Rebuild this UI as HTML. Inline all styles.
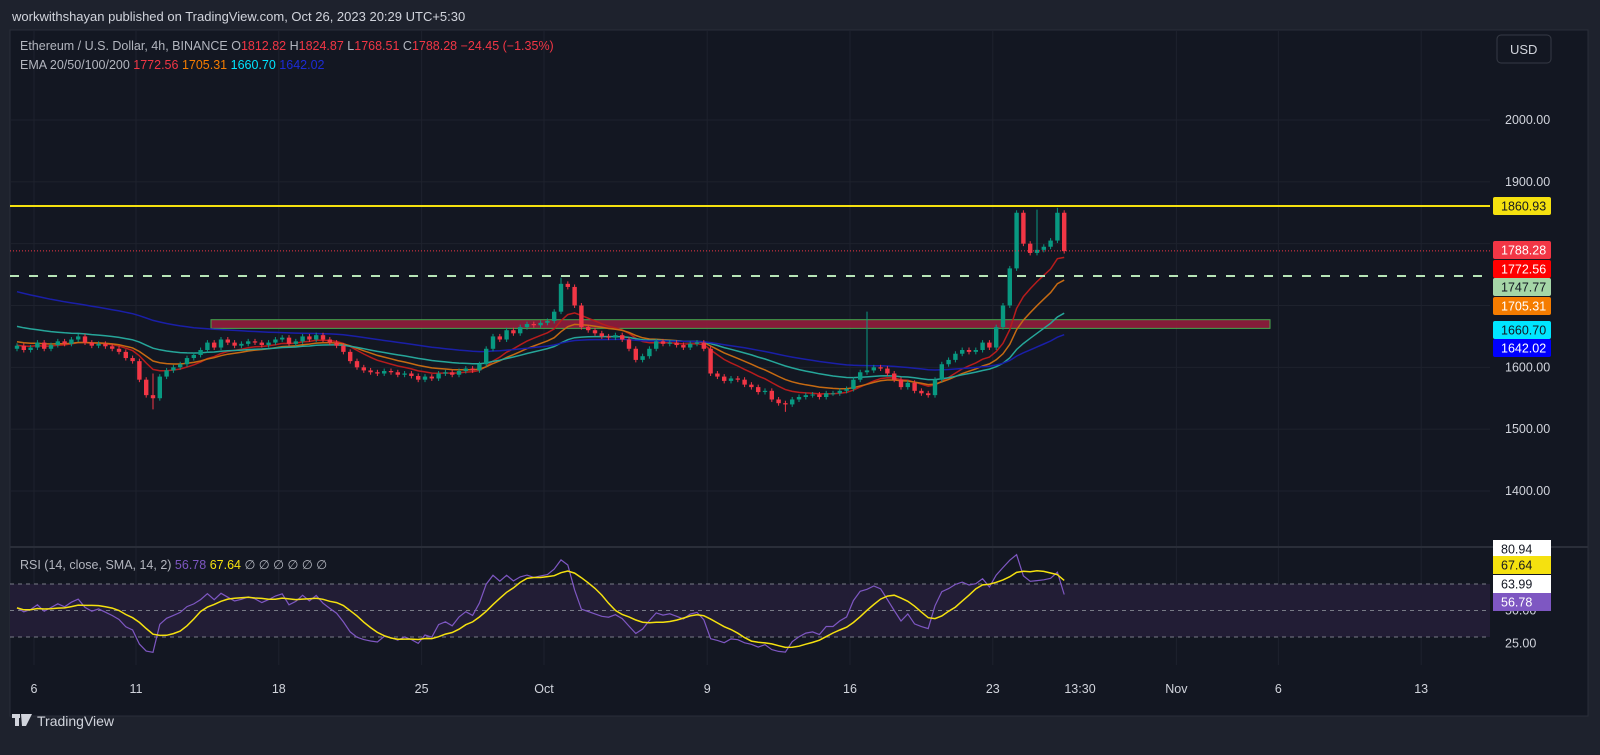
<!DOCTYPE html>
<html><head><meta charset="utf-8"><style>
html,body{margin:0;padding:0;background:#1e222d;width:1600px;height:755px;overflow:hidden;font-family:"Liberation Sans",sans-serif}
svg text{font-family:"Liberation Sans",sans-serif}
</style></head><body>
<svg id="c" width="1600" height="755" xmlns="http://www.w3.org/2000/svg">
<rect x="0" y="0" width="1600" height="755" fill="#1e222d"/>
<text x="12" y="21" fill="#d1d4dc" font-size="13">workwithshayan published on TradingView.com, Oct 26, 2023 20:29 UTC+5:30</text>
<rect x="10" y="30" width="1578" height="686" fill="#131722" stroke="#2a2e39"/>
<g id="grid"></g>
<g id="pane"></g>
<line x1="10" y1="547" x2="1588" y2="547" stroke="#2a2e39" stroke-width="2"/>
<g id="rsi"></g>
<g id="axis"></g>
<g id="taxis"></g>
<text x="20" y="50" font-size="12.5" fill="#b2b5be">Ethereum / U.S. Dollar, 4h, BINANCE <tspan fill="#b2b5be"> O</tspan><tspan fill="#f23645">1812.82</tspan><tspan fill="#b2b5be">  H</tspan><tspan fill="#f23645">1824.87</tspan><tspan fill="#b2b5be">  L</tspan><tspan fill="#f23645">1768.51</tspan><tspan fill="#b2b5be">  C</tspan><tspan fill="#f23645">1788.28  −24.45 (−1.35%)</tspan></text>
<text x="20" y="69" font-size="12.5" fill="#b2b5be">EMA 20/50/100/200  <tspan fill="#f23645">1772.56</tspan>  <tspan fill="#f57c00">1705.31</tspan>  <tspan fill="#00e5ff">1660.70</tspan>  <tspan fill="#1c2bd6">1642.02</tspan></text>
<text x="20" y="569" font-size="12.5" fill="#b2b5be">RSI (14, close, SMA, 14, 2)  <tspan fill="#7e57c2">56.78</tspan>  <tspan fill="#f5e10f">67.64</tspan>  ∅  ∅  ∅  ∅  ∅  ∅</text>
<rect x="1497" y="35" width="54" height="28" rx="4" fill="#131722" stroke="#363a45"/>
<text x="1510" y="54" font-size="13" fill="#d1d4dc">USD</text>
<g><rect x="12" y="714" width="8" height="4" fill="#d1d4dc"/><rect x="15" y="714" width="4" height="12" fill="#d1d4dc"/><polygon points="21,714 32,714 26,726 22,726" fill="#d1d4dc"/>
<text x="37" y="726" font-size="14" fill="#d1d4dc">TradingView</text></g>
</svg>
<script>
// ---------- data ----------
const days = ["Sep5","Sep6","Sep7","Sep8","Sep9","Sep10","Sep11","Sep12","Sep13","Sep14","Sep15","Sep16","Sep17","Sep18","Sep19","Sep20","Sep21","Sep22","Sep23","Sep24","Sep25","Sep26","Sep27","Sep28","Sep29","Sep30","Oct1","Oct2","Oct3","Oct4","Oct5","Oct6","Oct7","Oct8","Oct9","Oct10","Oct11","Oct12","Oct13","Oct14","Oct15","Oct16","Oct17","Oct18","Oct19","Oct20","Oct21","Oct22","Oct23","Oct24","Oct25","Oct26"];
const closes = [
1635,1628,1632, 1640,1630,1636, 1642,1638,1645, 1650,1640,1635, 1638,1634,1630, 1625,1615,1610,
1580,1555,1550, 1585,1595,1600, 1605,1615,1620, 1628,1640,1632, 1645,1640,1635, 1638,1642,1640,
1636,1640,1645, 1648,1638,1642, 1650,1645,1652, 1645,1640,1635, 1625,1610,1600, 1595,1592,1590,
1594,1592,1588, 1590,1586,1580, 1585,1582,1590, 1592,1588,1594, 1598,1595,1605, 1630,1650,1645,
1660,1655,1665, 1670,1668,1672, 1675,1690,1735, 1730,1700,1665, 1660,1655,1650, 1648,1652,1645,
1630,1612,1618, 1630,1642,1638, 1640,1636,1632, 1638,1640,1630, 1590,1585,1578, 1582,1580,1572,
1568,1560,1562, 1548,1542,1540, 1548,1552,1555, 1556,1552,1558, 1558,1562,1565, 1580,1592,1595,
1600,1598,1590, 1580,1568,1575, 1562,1558,1555, 1580,1605,1612, 1622,1628,1625, 1628,1640,1632,
1665,1700,1760, 1850,1800,1785, 1790,1795,1805, 1850,1788];
const firstOpen = 1630;
const spikeIdx = [20, 80, 125, 150, 153];
const spikeHigh = [1590, 1745, 1690, 1855, 1858];
const spikeLowIdx = [20, 113];
const spikeLow = [1532, 1528];
const priceTicks = [2000, 1900, 1600, 1500, 1400];
const rsiTicks = [50, 25];
const timeLabels = ["6","11","18","25","Oct","9","16","23","Nov","6","13"];
const timeDays = [0,5,12,19,25,33,40,47,56,61,68];
const emaPeriods = [10,17,34,67];
const emaSeeds = [1636,1642,1668,1725];
const emaColors = ["#b71c1c","#c66a12","#26a69a","#1a1fa8"];
const resistance = 1860.93, lastClose = 1788.28, dashLevel = 1747.77;
const zoneTop = 1677, zoneBot = 1663;
// ---------- scales ----------
const PL=10, PR=1490;
const xDay = d => 34 + (d)*20.4;
const xi = i => xDay(-1 + (i+0.5)/3);
const yP = p => 120 + (2000-p)*0.6183;
const yR = v => 584 + (70-v)*1.325;
const NS="http://www.w3.org/2000/svg";
function mk(tag, attrs, parent){const e=document.createElementNS(NS,tag);for(const k in attrs)e.setAttribute(k,attrs[k]);parent.appendChild(e);return e;}
const grid=document.getElementById('grid'), pane=document.getElementById('pane'), rsiG=document.getElementById('rsi'), axis=document.getElementById('axis'), taxis=document.getElementById('taxis');
[2000,1900,1800,1700,1600,1500,1400].forEach(p=>{const l=mk('line',{x1:PL,x2:PR,y1:yP(p),y2:yP(p),stroke:'#1e222d'},grid);

});
timeDays.forEach(d=>{const l=mk('line',{x1:xDay(d),x2:xDay(d),y1:31,y2:665,stroke:'#1e222d'},grid);

});
const z=mk('rect',{x:211,y:yP(zoneTop),width:1059,height:yP(zoneBot)-yP(zoneTop),fill:'#8c1d3b',stroke:'#4caf50','stroke-width':1,opacity:0.95},pane);


emaPeriods.forEach((per,k)=>{let e=emaSeeds[k];const a=2/(per+1);let pts=[];closes.forEach((c,i)=>{e=e+a*(c-e);pts.push(xi(i).toFixed(1)+','+yP(e).toFixed(1));});
const pl=mk('polyline',{points:pts.join(' '),fill:'none',stroke:emaColors[k],'stroke-width':1.5},pane);

});
closes.forEach((c,i)=>{const o=i?closes[i-1]:firstOpen;let h=Math.max(o,c)+4,l=Math.min(o,c)-4;
const si=spikeIdx.indexOf(i);if(si>=0)h=Math.max(h,spikeHigh[si]);const li=spikeLowIdx.indexOf(i);if(li>=0)l=Math.min(l,spikeLow[li]);
const col=c>=o?'#089981':'#f23645';const x=xi(i);
const g=mk('g',{},pane);


mk('line',{x1:x,x2:x,y1:yP(h),y2:yP(l),stroke:col,'stroke-width':1},g);
const top=yP(Math.max(o,c)),bh=Math.max(1,yP(Math.min(o,c))-top);
mk('rect',{x:x-2.2,y:top,width:4.4,height:bh,fill:col},g);});
const ry=mk('line',{x1:PL,x2:PR,y1:yP(resistance),y2:yP(resistance),stroke:'#f5e10f','stroke-width':2},pane);


const rl=mk('line',{x1:PL,x2:PR,y1:yP(lastClose),y2:yP(lastClose),stroke:'#f23645','stroke-width':1,'stroke-dasharray':'1,2'},pane);


const dl=mk('line',{x1:PL,x2:PR,y1:yP(dashLevel),y2:yP(dashLevel),stroke:'#b7e4b7','stroke-width':2,'stroke-dasharray':'9,10'},pane);


priceTicks.forEach(p=>{const t=mk('text',{x:1505,y:yP(p)+4,'font-size':12.5,fill:'#d1d4dc'},axis);t.textContent=p.toFixed(2);

});
const boxes=[[resistance,'#f5e10f','#131722'],[lastClose,'#f23645','#fff'],[1772.56,'#ff0000','#fff'],[dashLevel,'#a5d6a7','#131722'],[1705.31,'#f57c00','#fff'],[1660.70,'#00e5ff','#131722'],[1642.02,'#0000ff','#fff']];
const boxY=[206,250,269,287,306,330,348];
boxes.forEach((b,k)=>{const g=mk('g',{},axis);


mk('rect',{x:1493,y:boxY[k]-9,width:58,height:18,rx:2,fill:b[1]},g);
const t=mk('text',{x:1501,y:boxY[k]+4.5,'font-size':12.5,fill:b[2]},g);t.textContent=b[0].toFixed(2);});
// RSI
let ag=6,al=6;const rsi=[];const RP=11;
closes.forEach((c,i)=>{const prev=i?closes[i-1]:firstOpen;const ch=c-prev;ag=(ag*(RP-1)+Math.max(ch,0))/RP;al=(al*(RP-1)+Math.max(-ch,0))/RP;rsi.push(100-100/(1+ag/(al||1e-9)));});
const sma=rsi.map((v,i)=>{const s=rsi.slice(Math.max(0,i-6),i+1);return s.reduce((a,b)=>a+b,0)/s.length;});
const band=mk('rect',{x:PL,y:yR(70),width:PR-PL,height:yR(30)-yR(70),fill:'#221d35'},rsiG);


[70,50,30].forEach(v=>{const l=mk('line',{x1:PL,x2:PR,y1:yR(v),y2:yR(v),stroke:'#787b86','stroke-dasharray':'4,4'},rsiG);

});
const rp=mk('polyline',{points:rsi.map((v,i)=>xi(i).toFixed(1)+','+yR(v).toFixed(1)).join(' '),fill:'none',stroke:'#7e57c2','stroke-width':1.2},rsiG);


const sp=mk('polyline',{points:sma.map((v,i)=>xi(i).toFixed(1)+','+yR(v).toFixed(1)).join(' '),fill:'none',stroke:'#f5e10f','stroke-width':1.5},rsiG);


rsiTicks.forEach(v=>{const t=mk('text',{x:1505,y:yR(v)+4,'font-size':12.5,fill:'#d1d4dc'},axis);t.textContent=v.toFixed(2);

});
[[549,'80.94','#fff','#131722'],[565,'67.64','#f5e10f','#131722'],[584,'63.99','#fff','#131722'],[602,'56.78','#7e57c2','#fff']].forEach(b=>{const g=mk('g',{},axis);


mk('rect',{x:1493,y:b[0]-9,width:58,height:18,fill:b[2]},g);const t=mk('text',{x:1501,y:b[0]+4.5,'font-size':12.5,fill:b[3]},g);t.textContent=b[1];});
timeLabels.forEach((s,k)=>{const t=mk('text',{x:xDay(timeDays[k]),y:693,'font-size':12.5,fill:'#d1d4dc','text-anchor':'middle'},taxis);t.textContent=s;

});
const tc=mk('text',{x:1080,y:693,'font-size':12.5,fill:'#d1d4dc','text-anchor':'middle'},taxis);tc.textContent='13:30';


</script>
</body></html>
